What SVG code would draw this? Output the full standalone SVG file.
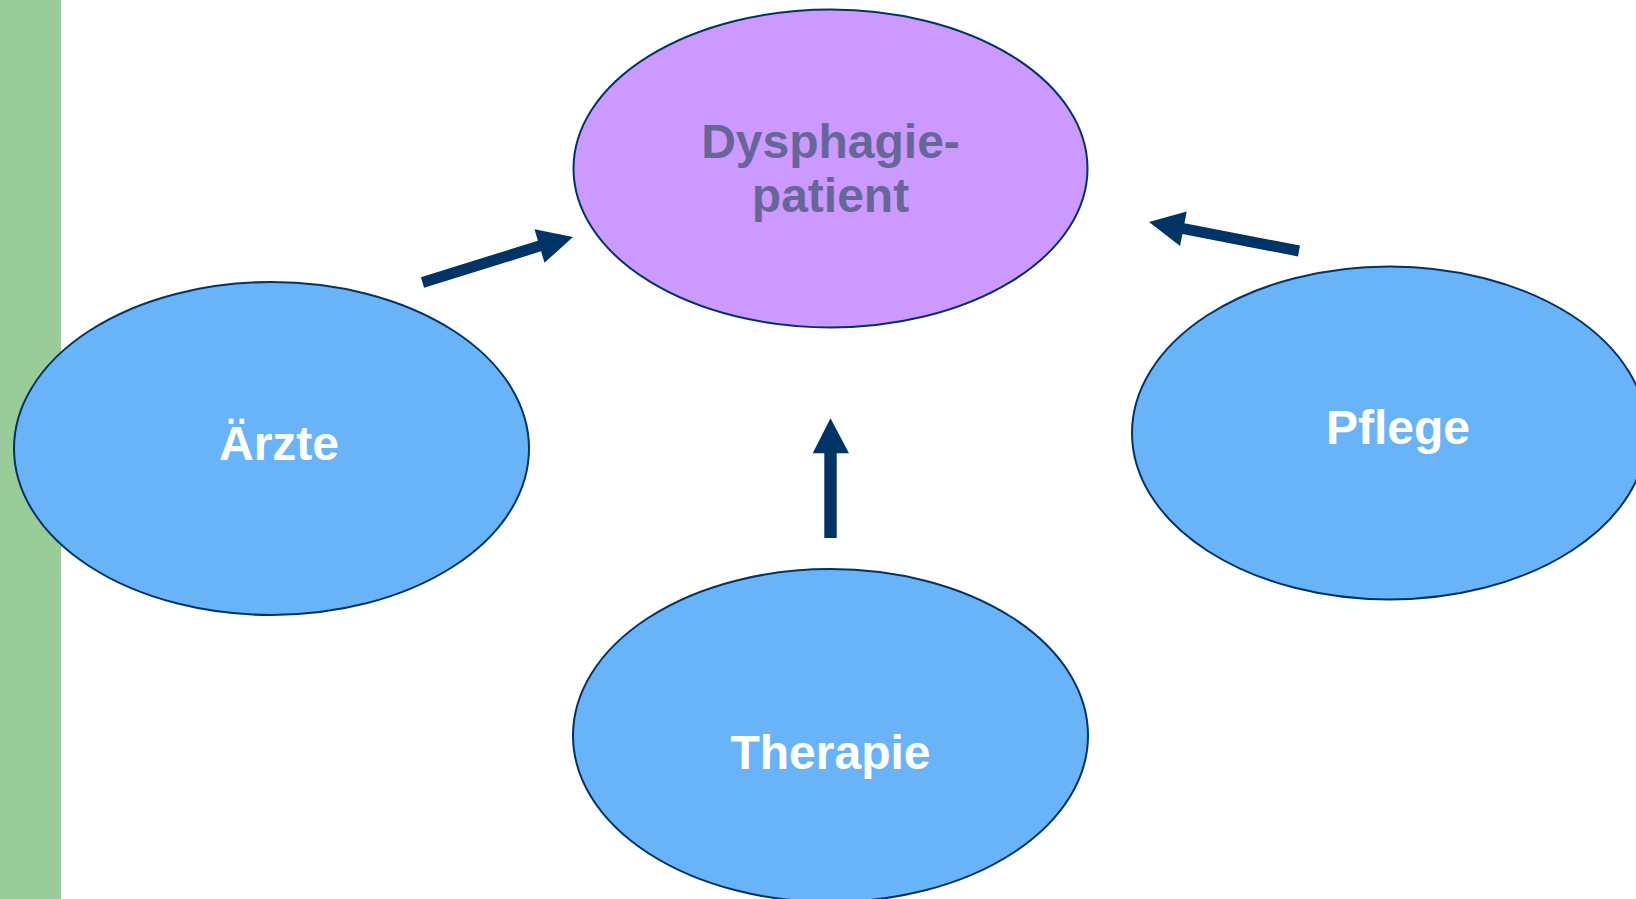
<svg xmlns="http://www.w3.org/2000/svg" width="1636" height="899" viewBox="0 0 1636 899">
<style>
.node{stroke:#003366;stroke-width:2}
.blue{fill:#69B4F9}
.purple{fill:#CC99FF}
.lbl{font-family:"Liberation Sans",Arial,sans-serif;font-weight:bold;font-size:48px;text-anchor:middle}
.w{fill:#FFFFFF}
.p{fill:#666699}
.arrow{fill:#003366}
</style>
<rect x="0" y="0" width="1636" height="899" fill="#FFFFFF"/>
<rect x="0" y="0" width="61" height="899" fill="#99CC99"/>
<g id="dysphagiepatient">
<ellipse class="node purple" cx="830.5" cy="168.5" rx="257" ry="159"/>
<text class="lbl p" x="830.5" y="158">Dysphagie-</text>
<text class="lbl p" x="830.5" y="212">patient</text>
</g>
<g id="aerzte">
<ellipse class="node blue" cx="271.5" cy="448.5" rx="257.5" ry="166.5"/>
<text class="lbl w" x="279" y="460">Ärzte</text>
</g>
<g id="pflege">
<ellipse class="node blue" cx="1389.5" cy="433" rx="257.5" ry="166.5"/>
<text class="lbl w" x="1398" y="444">Pflege</text>
</g>
<g id="therapie">
<ellipse class="node blue" cx="830.5" cy="735.5" rx="257.5" ry="166.5"/>
<text class="lbl w" x="830.5" y="769">Therapie</text>
</g>
<g id="connectors">
<polygon class="arrow" points="420.9,277.2 537.9,240.7 534.5,229.2 573,237 544.5,262.8 541.1,251.3 424.1,287.8"/>
<polygon class="arrow" points="1300,245.6 1184.4,223.3 1186.7,211.5 1149,222 1180.1,245.9 1182.4,234.1 1298,256.4"/>
<polygon class="arrow" points="824.3,538 824.3,453.3 812.7,453.3 830.5,418.3 849,453.3 836.7,453.3 836.7,538"/>
</g>
</svg>
